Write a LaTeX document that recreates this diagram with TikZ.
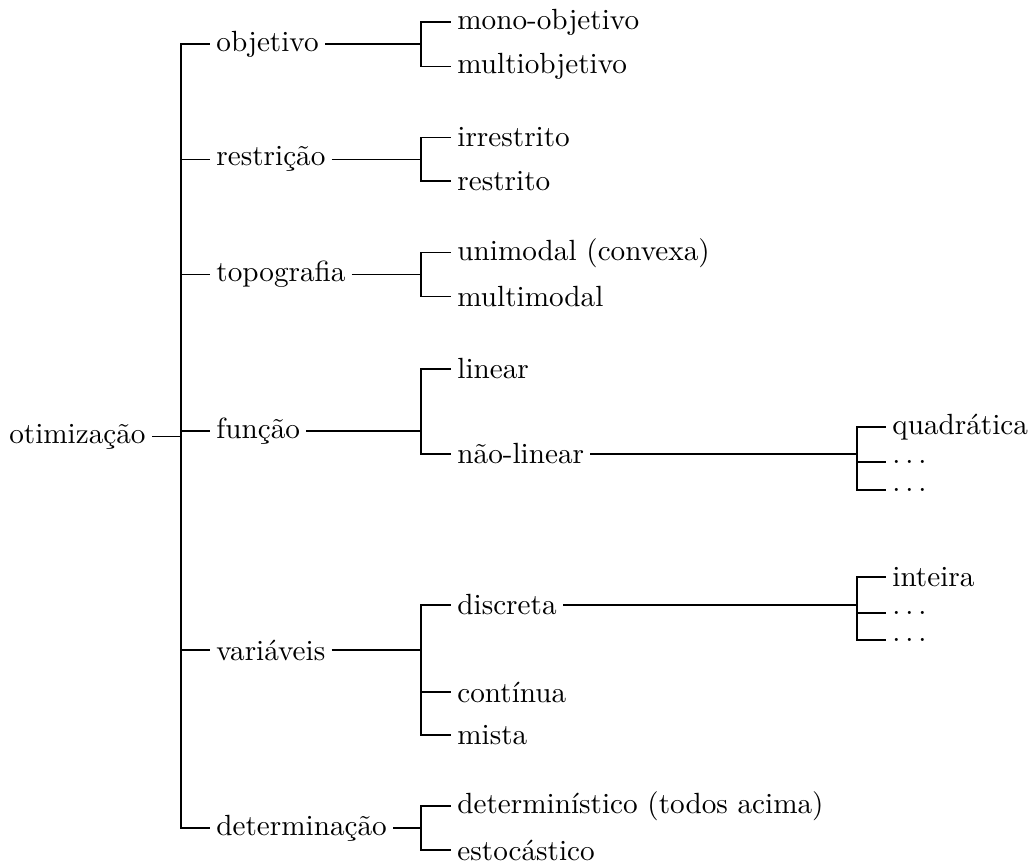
\documentclass[tikz,border=0pt]{standalone}
\tikzset{
  lbl/.style={inner xsep=2pt, inner ysep=3pt, anchor=west},
  conn/.style={draw=black, line width=0.4pt}
}
\begin{document}
\begin{tikzpicture}[x=0.3425pt,y=-0.3425pt]
\useasboundingbox (0,0) rectangle (1031,866);
% bracket columns
\coordinate (b1) at (181,0);
\coordinate (b2) at (421,0);
\coordinate (b3) at (857,0);
% root
\node[lbl,anchor=east] (root) at (152,436.7) {otimização};
% level 1
\node[lbl] (obj) at (210,44)    {objetivo};
\node[lbl] (res) at (210,159.3) {restrição};
\node[lbl] (top) at (210,274.7) {topografia};
\node[lbl] (fun) at (210,431)   {função};
\node[lbl] (var) at (210,650)   {variáveis};
\node[lbl] (det) at (210,828)   {determinação};
% level 2
\node[lbl] (mono)  at (451,22)    {mono-objetivo};
\node[lbl] (multi) at (451,66.7)  {multiobjetivo};
\node[lbl] (irr)   at (451,137.5) {irrestrito};
\node[lbl] (rest)  at (451,181)   {restrito};
\node[lbl] (uni)   at (451,252.7) {unimodal (convexa)};
\node[lbl] (mmod)  at (451,296.7) {multimodal};
\node[lbl] (lin)   at (451,369)   {linear};
\node[lbl] (nlin)  at (451,454)   {não-linear};
\node[lbl] (disc)  at (451,605)   {discreta};
\node[lbl] (cont)  at (451,692)   {contínua};
\node[lbl] (mist)  at (451,735)   {mista};
\node[lbl] (dtm)   at (451,806)   {determinístico (todos acima)};
\node[lbl] (est)   at (451,850)   {estocástico};
% level 3
\node[lbl] (quad) at (886,427) {quadrática};
\node[lbl] (qa)   at (886,462) {$\ldots$};
\node[lbl] (qb)   at (886,490) {$\ldots$};
\node[lbl] (int)  at (886,577) {inteira};
\node[lbl] (ia)   at (886,613) {$\ldots$};
\node[lbl] (ib)   at (886,640) {$\ldots$};
% connectors
\draw[conn] (root.east) -- (root.east -| b1);
\foreach \c in {obj,res,top,fun,var,det}
  \draw[conn] (root.east -| b1) |- (\c.west);
\foreach \p/\c in {obj/mono,obj/multi,res/irr,res/rest,top/uni,top/mmod,
                   fun/lin,fun/nlin,var/disc,var/cont,var/mist,det/dtm,det/est}
  \draw[conn] (\p.east) -- (\p.east -| b2) |- (\c.west);
\foreach \p/\c in {nlin/quad,nlin/qa,nlin/qb,disc/int,disc/ia,disc/ib}
  \draw[conn] (\p.east) -- (\p.east -| b3) |- (\c.west);
\end{tikzpicture}
\end{document}
